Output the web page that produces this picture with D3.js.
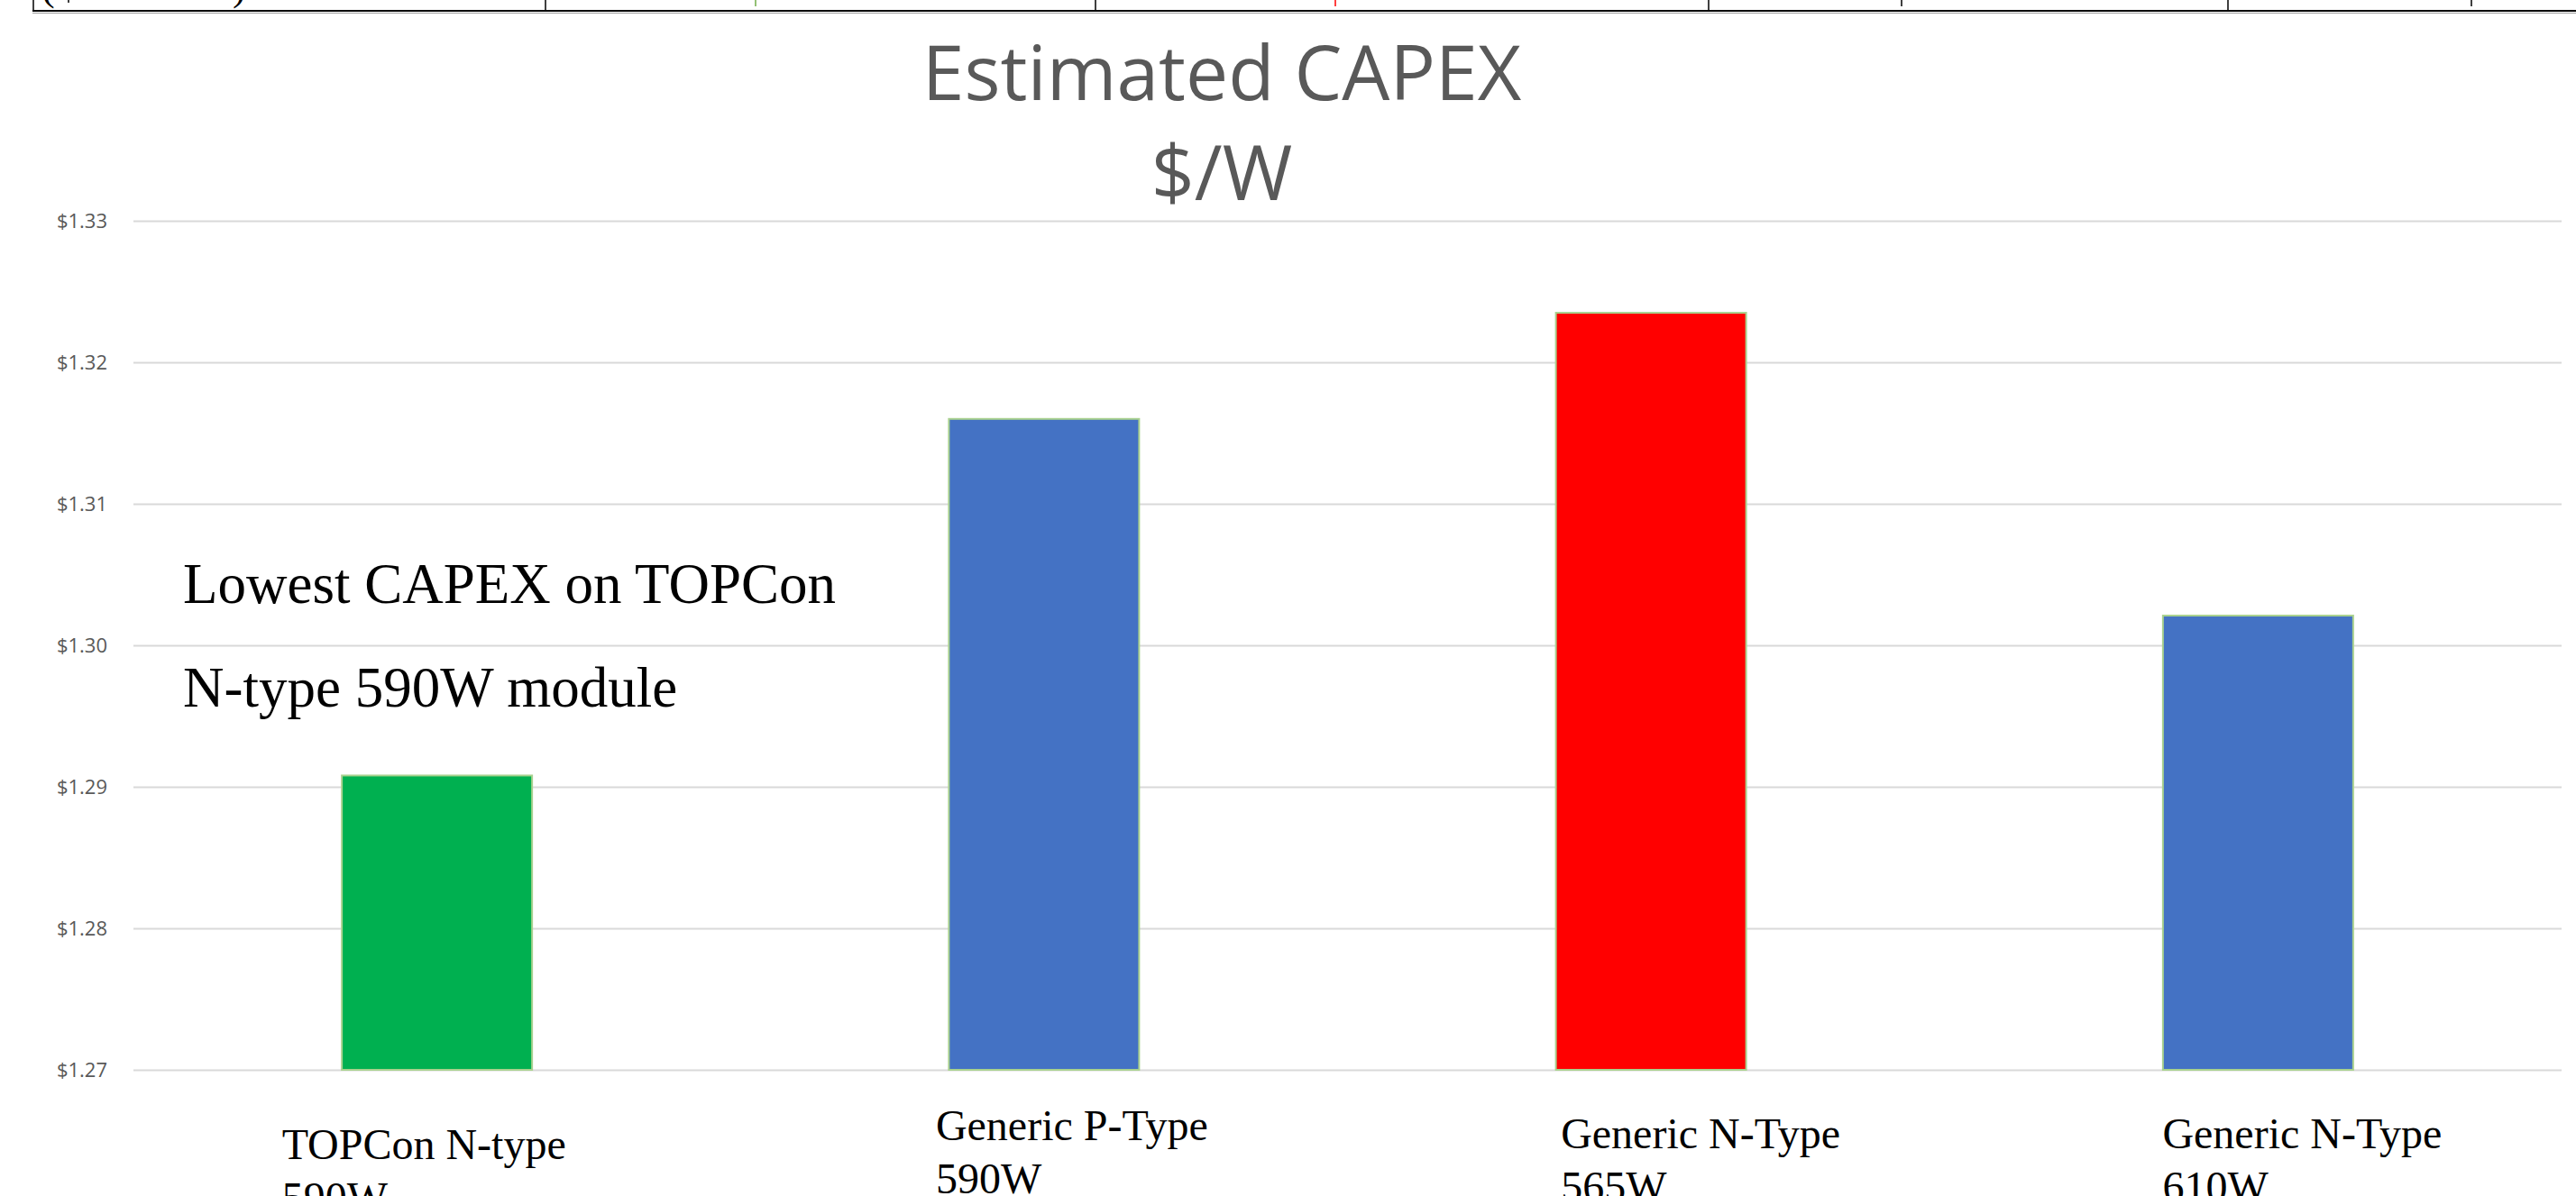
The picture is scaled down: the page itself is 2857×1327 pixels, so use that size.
<!DOCTYPE html>
<html>
<head>
<meta charset="utf-8">
<script src="https://cdn.jsdelivr.net/npm/d3@7"></script>
<style>
  html, body { margin: 0; padding: 0; background: #fff; }
  #container { width: 2857px; height: 1327px; overflow: hidden; }
</style>
</head>
<body>
<div id="container"></div>
<script>
const categories = ["TOPCon N-type", "Generic P-Type", "Generic N-Type", "Generic N-Type "];
const categoryLines = [["TOPCon N-type", "590W"], ["Generic P-Type", "590W"], ["Generic N-Type", "565W"], ["Generic N-Type", "610W"]];
const capexValues = [1.2908, 1.3160, 1.3235, 1.3021];
const barColors = ["#00B050", "#4472C4", "#FF0000", "#4472C4"];
const yTicks = [1.27, 1.28, 1.29, 1.30, 1.31, 1.32, 1.33];
const titleLines = ["Estimated CAPEX", "$/W"];
const noteLines = ["Lowest CAPEX on TOPCon", "N-type 590W module"];

document.addEventListener("DOMContentLoaded", () => {
  const totalWidth = 2857;
  const totalHeight = 1327;
  const plot = { left: 148, right: 2841, top: 245, bottom: 1187 };

  const svg = d3.select("#container")
    .append("svg")
    .attr("width", totalWidth)
    .attr("height", totalHeight);

  svg.append("rect")
    .attr("width", totalWidth)
    .attr("height", totalHeight)
    .attr("fill", "#fff");

  // Table remnant cut off at the top of the slide
  const table = svg.append("g");
  table.append("line")
    .attr("x1", 36).attr("x2", totalWidth).attr("y1", 12).attr("y2", 12)
    .attr("stroke", "#000").attr("stroke-width", 2);
  table.append("line")
    .attr("x1", 36).attr("x2", totalWidth).attr("y1", 14.5).attr("y2", 14.5)
    .attr("stroke", "#999").attr("stroke-width", 1);
  [37, 605, 1215, 1895, 2471].forEach(x => {
    table.append("line")
      .attr("x1", x).attr("x2", x).attr("y1", 0).attr("y2", 12)
      .attr("stroke", "#000").attr("stroke-width", 1.5);
  });
  [[76, "#000", 3], [838, "#70AD47", 7], [1481, "#FF0000", 7], [2109, "#000", 7], [2741, "#000", 7]].forEach(([x, c, h]) => {
    table.append("line")
      .attr("x1", x).attr("x2", x).attr("y1", 0).attr("y2", h)
      .attr("stroke", c).attr("stroke-width", 1.5);
  });
  table.append("text").attr("x", 46).attr("y", 0)
    .style("font-family", "'Liberation Serif', serif").style("font-size", "44px").text("(");
  table.append("text").attr("x", 258).attr("y", 0)
    .style("font-family", "'Liberation Serif', serif").style("font-size", "44px").text(")");

  // Scales
  const xScale = d3.scaleBand()
    .domain(categories)
    .range([plot.left, plot.right])
    .paddingInner(0.6866)
    .paddingOuter(0.3433);

  const yScale = d3.scaleLinear()
    .domain([1.27, 1.33])
    .range([plot.bottom, plot.top]);

  // Gridlines + y labels
  const yAxis = svg.append("g")
    .attr("transform", `translate(${plot.left},0)`)
    .call(d3.axisLeft(yScale)
      .tickValues(yTicks)
      .tickSize(-(plot.right - plot.left))
      .tickPadding(29)
      .tickFormat(d3.format("$.2f")));
  yAxis.select(".domain").remove();
  yAxis.selectAll(".tick line")
    .attr("stroke", "#D9D9D9")
    .attr("stroke-width", 2);
  yAxis.selectAll(".tick text")
    .attr("fill", "#595959")
    .style("font-family", "'Open Sans', sans-serif")
    .style("font-size", "22px");

  // Bars
  svg.selectAll("rect.bar")
    .data(capexValues)
    .enter()
    .append("rect")
    .attr("class", "bar")
    .attr("x", (d, i) => xScale(categories[i]))
    .attr("y", d => yScale(d))
    .attr("width", xScale.bandwidth())
    .attr("height", d => yScale(1.27) - yScale(d))
    .attr("fill", (d, i) => barColors[i])
    .attr("stroke", "#A9D18E")
    .attr("stroke-width", 2);

  // Category labels (hand-placed text boxes in the original)
  const labelNudge = [-172, -120, -100, -106];
  const labelBase = [1286, 1265, 1274, 1274];
  const labels = svg.selectAll("text.cat")
    .data(categoryLines)
    .enter()
    .append("text")
    .attr("class", "cat")
    .attr("x", (d, i) => xScale(categories[i]) + xScale.bandwidth() / 2 + labelNudge[i])
    .attr("y", (d, i) => labelBase[i])
    .style("font-family", "'Liberation Serif', 'Times New Roman', serif")
    .style("font-size", "48px")
    .attr("fill", "#000");
  labels.selectAll("tspan")
    .data(d => d)
    .enter()
    .append("tspan")
    .attr("x", function () { return d3.select(this.parentNode).attr("x"); })
    .attr("dy", (d, i) => i === 0 ? 0 : 59)
    .text(d => d);

  // Title
  svg.append("text")
    .attr("text-anchor", "middle")
    .attr("fill", "#595959")
    .style("font-family", "'Open Sans', sans-serif")
    .style("font-size", "84px")
    .selectAll("tspan")
    .data(titleLines)
    .enter()
    .append("tspan")
    .attr("x", 1355)
    .attr("y", (d, i) => 111 + i * 111)
    .text(d => d);

  // Annotation
  svg.append("text")
    .attr("fill", "#000")
    .style("font-family", "'Liberation Serif', 'Times New Roman', serif")
    .style("font-size", "63px")
    .selectAll("tspan")
    .data(noteLines)
    .enter()
    .append("tspan")
    .attr("x", 203)
    .attr("y", (d, i) => 669 + i * 115)
    .text(d => d);
});
</script>
</body>
</html>
